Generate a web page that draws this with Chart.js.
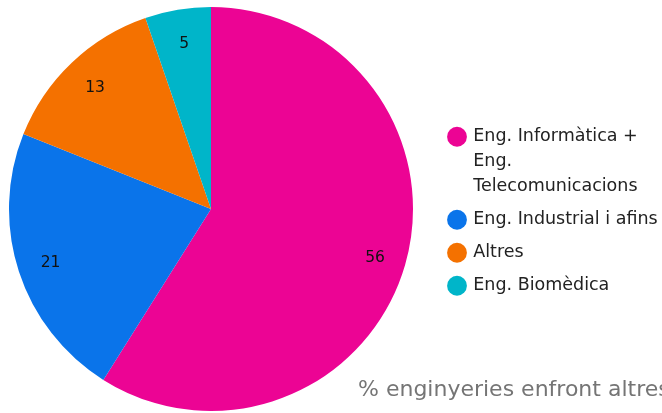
<!DOCTYPE html>
<html><head><meta charset="utf-8">
<script src="https://cdn.jsdelivr.net/npm/chart.js@4/dist/chart.umd.min.js"></script>
<style>html,body{margin:0;padding:0;background:#fff;overflow:hidden}#wrap{position:relative;width:662px;height:413px}</style>
</head><body><div id="wrap"><canvas id="c" width="662" height="413"></canvas></div>
<script>
const categories = ["Eng. Informàtica + Eng. Telecomunicacions", "Eng. Industrial i afins", "Altres", "Eng. Biomèdica"];
const legendLines = [["Eng. Informàtica +", "Eng.", "Telecomunicacions"], ["Eng. Industrial i afins"], ["Altres"], ["Eng. Biomèdica"]];
const values = [56, 21, 13, 5];
const titleText = "% enginyeries enfront altres";
const sliceColors = ['#ec0494', '#0a74ea', '#f47100', '#00b5c9'];

const legendTweak = {
  id: 'legendTweak',
  afterInit(chart) {
    const lg = chart.legend;
    const orig = lg.fit.bind(lg);
    lg.fit = function () { orig(); this.width = 249; };
  },
  afterLayout(chart) {
    const lg = chart.legend;
    lg.left += 28.5; lg.right += 28.5;
    lg.top += 6; lg.bottom += 6;
  }
};

const sliceLabels = {
  id: 'sliceLabels',
  afterDatasetsDraw(chart) {
    const ctx = chart.ctx;
    const meta = chart.getDatasetMeta(0);
    const data = chart.data.datasets[0].data;
    ctx.save();
    ctx.font = '15.5px "DejaVu Sans"';
    ctx.fillStyle = '#111';
    ctx.textAlign = 'center';
    ctx.textBaseline = 'middle';
    meta.data.forEach((arc, i) => {
      const p = arc.getProps(['x', 'y', 'startAngle', 'endAngle', 'outerRadius'], true);
      const mid = (p.startAngle + p.endAngle) / 2;
      const r = p.outerRadius * 0.84;
      ctx.fillText(String(data[i]), p.x + Math.cos(mid) * r + 1, p.y + Math.sin(mid) * r + 2);
    });
    ctx.restore();
  }
};

const bottomTitle = {
  id: 'bottomTitle',
  afterDraw(chart) {
    const ctx = chart.ctx;
    ctx.save();
    ctx.font = '22px "DejaVu Sans"';
    ctx.fillStyle = '#757575';
    ctx.textAlign = 'left';
    ctx.textBaseline = 'alphabetic';
    ctx.fillText(titleText, 358, 396);
    ctx.restore();
  }
};

new Chart(document.getElementById('c'), {
  type: 'pie',
  data: {
    labels: categories,
    datasets: [{
      data: values,
      backgroundColor: sliceColors,
      borderWidth: 0
    }]
  },
  options: {
    responsive: false,
    animation: false,
    layout: { padding: { left: 9, top: 7, bottom: 2, right: 0 } },
    plugins: {
      tooltip: { enabled: false },
      legend: {
        position: 'right',
        labels: {
          usePointStyle: true,
          pointStyle: 'circle',
          boxWidth: 15,
          boxHeight: 14,
          padding: 8,
          color: '#222',
          font: { family: '"DejaVu Sans"', size: 17.5, lineHeight: '25px' },
          generateLabels() {
            return legendLines.map((t, i) => ({
              text: t,
              fillStyle: sliceColors[i],
              strokeStyle: sliceColors[i],
              lineWidth: 0,
              pointStyle: 'circle',
              hidden: false,
              index: i,
              fontColor: '#222'
            }));
          }
        }
      }
    }
  },
  plugins: [legendTweak, sliceLabels, bottomTitle]
});
</script>
</body></html>
